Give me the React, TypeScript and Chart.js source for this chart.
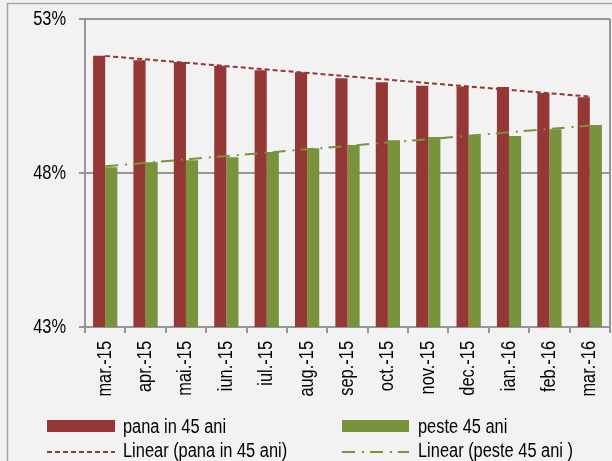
import React, { useEffect, useRef } from "react";
import { Chart, registerables } from "chart.js";

Chart.register(...registerables);

const categories = ["mar.-15", "apr.-15", "mai.-15", "iun.-15", "iul.-15", "aug.-15", "sep.-15", "oct.-15", "nov.-15", "dec.-15", "ian.-16", "feb.-16", "mar.-16"];
const panaIn45 = [51.81, 51.66, 51.6, 51.48, 51.34, 51.27, 51.08, 50.95, 50.83, 50.81, 50.79, 50.6, 50.46];
const peste45 = [48.19, 48.35, 48.41, 48.51, 48.68, 48.8, 48.91, 49.06, 49.17, 49.21, 49.2, 49.42, 49.56];
const trendPanaEnds = [51.8, 50.48];
const trendPesteEnds = [48.22, 49.54];
const yTicks = [43, 48, 53];
const seriesLabels = ["pana in 45 ani", "peste 45 ani", "Linear (pana in 45 ani)", "Linear (peste 45 ani )"];

const RED = "#953735";
const GREEN = "#77933c";
const GRID = "#969696";
const FONT = "'Liberation Sans', Arial, sans-serif";
const NARROW = 0.82;

function endsToSeries(ends: number[]) {
  return categories.map((_, i) => (i === 0 ? ends[0] : i === categories.length - 1 ? ends[1] : null));
}

function narrowText(ctx: any, text: string, x: number, y: number, angle: number, align: string) {
  ctx.save();
  ctx.translate(x, y);
  ctx.rotate(angle);
  ctx.scale(NARROW, 1);
  ctx.textAlign = align;
  ctx.textBaseline = "middle";
  ctx.fillText(text, 0, 0);
  ctx.restore();
}

const framePlugin = {
  id: "frame",
  beforeDraw(chart: any) {
    const { ctx, width, height } = chart;
    ctx.save();
    ctx.fillStyle = "#f2f2f2";
    ctx.fillRect(0, 0, width, height);
    ctx.strokeStyle = "#a6a6a6";
    ctx.lineWidth = 1.5;
    ctx.strokeRect(7.5, 3.5, width + 10, height + 10);
    ctx.restore();
  },
  afterDatasetsDraw(chart: any) {
    const { ctx, chartArea } = chart;
    ctx.save();
    ctx.strokeStyle = GRID;
    ctx.lineWidth = 2;
    ctx.beginPath();
    ctx.moveTo(chartArea.right, chartArea.top);
    ctx.lineTo(chartArea.right, chartArea.bottom);
    ctx.stroke();
    ctx.restore();
  },
  afterDraw(chart: any) {
    const { ctx, scales, chartArea } = chart;
    ctx.save();
    ctx.font = `20px ${FONT}`;
    ctx.fillStyle = "#000";
    // y tick labels
    yTicks.forEach((v) => {
      narrowText(ctx, `${v}%`, 66, scales.y.getPixelForValue(v), 0, "right");
    });
    // x tick labels
    categories.forEach((c, i) => {
      narrowText(ctx, c, scales.x.getPixelForValue(i), chartArea.bottom + 14, -Math.PI / 2, "right");
    });
    // legend row 1
    ctx.fillStyle = RED;
    ctx.fillRect(47, 420, 68, 12);
    ctx.fillStyle = GREEN;
    ctx.fillRect(342, 420, 67, 12);
    ctx.fillStyle = "#000";
    narrowText(ctx, seriesLabels[0], 123, 427, 0, "left");
    narrowText(ctx, seriesLabels[1], 418, 427, 0, "left");
    // legend row 2
    ctx.lineWidth = 2;
    ctx.strokeStyle = RED;
    ctx.setLineDash([5, 3]);
    ctx.beginPath();
    ctx.moveTo(47, 452);
    ctx.lineTo(115, 452);
    ctx.stroke();
    ctx.strokeStyle = GREEN;
    ctx.setLineDash([13, 7, 2, 6]);
    ctx.beginPath();
    ctx.moveTo(342, 452);
    ctx.lineTo(409, 452);
    ctx.stroke();
    ctx.setLineDash([]);
    ctx.fillStyle = "#000";
    narrowText(ctx, seriesLabels[2], 123, 451, 0, "left");
    narrowText(ctx, seriesLabels[3], 418, 451, 0, "left");
    ctx.restore();
  },
};

export default function App() {
  const ref = useRef<HTMLCanvasElement>(null);
  useEffect(() => {
    document.body.style.margin = "0";
    const chart = new Chart(ref.current!, {
      type: "bar",
      data: {
        labels: categories,
        datasets: [
          {
            type: "line",
            label: seriesLabels[2],
            data: endsToSeries(trendPanaEnds),
            borderColor: RED,
            borderWidth: 2,
            borderDash: [5, 3],
            pointRadius: 0,
            spanGaps: true,
            order: 0,
          } as any,
          {
            type: "line",
            label: seriesLabels[3],
            data: endsToSeries(trendPesteEnds),
            borderColor: GREEN,
            borderWidth: 2,
            borderDash: [13, 7, 2, 6],
            pointRadius: 0,
            spanGaps: true,
            order: 0,
          } as any,
          {
            label: seriesLabels[0],
            data: panaIn45,
            backgroundColor: RED,
            categoryPercentage: 0.6,
            barPercentage: 1.0,
            order: 1,
          },
          {
            label: seriesLabels[1],
            data: peste45,
            backgroundColor: GREEN,
            categoryPercentage: 0.6,
            barPercentage: 1.0,
            order: 1,
          },
        ],
      },
      options: {
        animation: false,
        responsive: false,
        layout: { padding: { left: 0, top: 19, right: 2, bottom: 0 } },
        plugins: { legend: { display: false }, tooltip: { enabled: false } },
        scales: {
          x: {
            offset: true,
            grid: { offset: true, drawOnChartArea: false, drawTicks: true, tickLength: 6, color: GRID, lineWidth: 2 },
            border: { display: true, color: GRID, width: 2 },
            ticks: { minRotation: 90, maxRotation: 90, padding: 8, color: "rgba(0,0,0,0)", font: { family: FONT, size: 20 }, autoSkip: false },
            afterFit(scale: any) {
              scale.height = 134;
              scale.paddingLeft = 0;
              scale.paddingRight = 0;
            },
          },
          y: {
            min: 43,
            max: 53,
            afterBuildTicks(scale: any) {
              scale.ticks = yTicks.map((v) => ({ value: v }));
            },
            grid: { color: GRID, lineWidth: 2, drawTicks: true, tickLength: 6 },
            border: { display: true, color: GRID, width: 2 },
            ticks: {
              padding: 13,
              color: "rgba(0,0,0,0)",
              font: { family: FONT, size: 20 },
              callback: (v: any) => `${v}%`,
            },
            afterFit(scale: any) {
              scale.width = 85;
              scale.paddingTop = 0;
              scale.paddingBottom = 0;
            },
          },
        },
      },
      plugins: [framePlugin],
    });
    return () => chart.destroy();
  }, []);
  return (
    <div style={{ position: "absolute", left: 0, top: 0, width: 612, height: 461 }}>
      <canvas ref={ref} width={612} height={461} />
    </div>
  );
}
